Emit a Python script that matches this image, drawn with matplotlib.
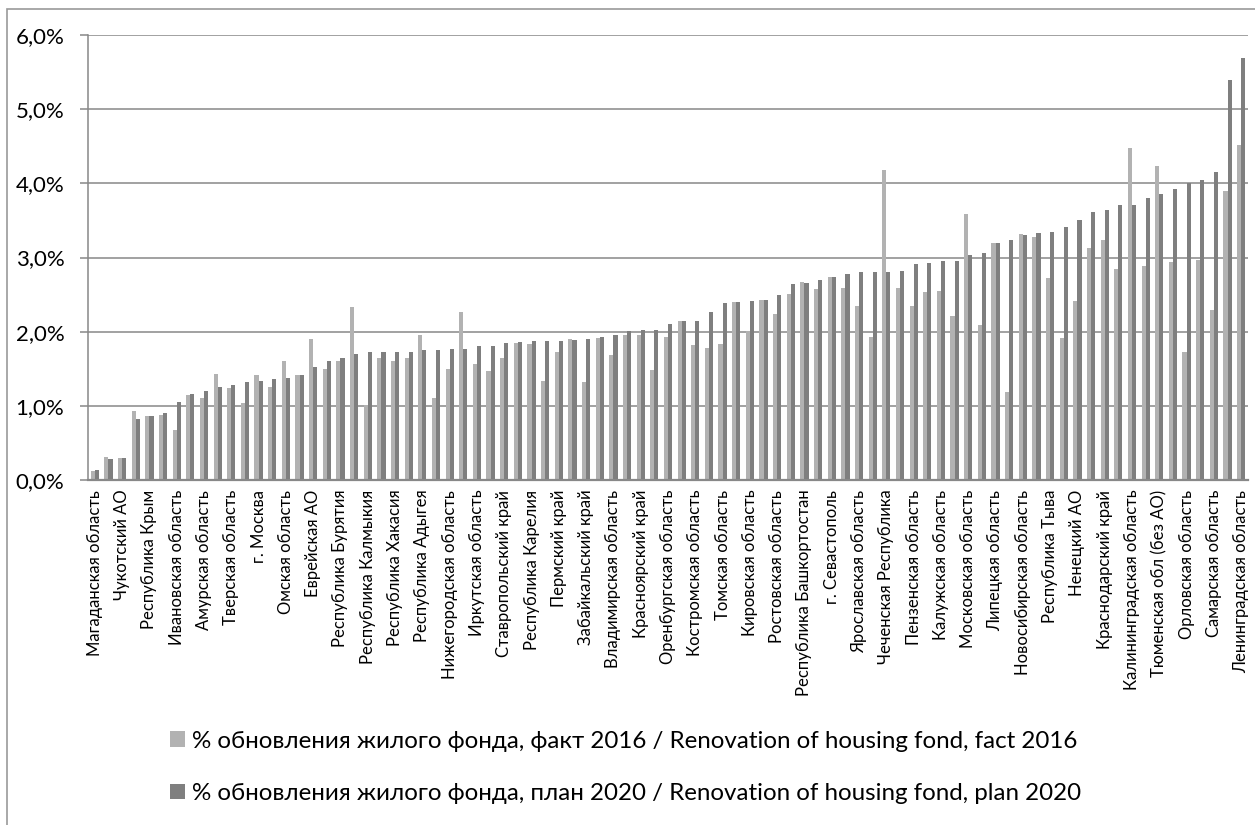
import numpy as np
import matplotlib
matplotlib.use("Agg")
import matplotlib.pyplot as plt
from matplotlib.patches import Rectangle

plt.rcParams['font.family'] = ['Lato', 'Open Sans', 'DejaVu Sans']

# подписи (каждый второй регион)
labels = ["Магаданская область", "Чукотский АО", "Республика Крым", "Ивановская область",
          "Амурская область", "Тверская область", "г. Москва", "Омская область",
          "Еврейская АО", "Республика Бурятия", "Республика Калмыкия", "Республика Хакасия",
          "Республика Адыгея", "Нижегородская область", "Иркутская область",
          "Ставропольский край", "Республика Карелия", "Пермский край", "Забайкальский край",
          "Владимирская область", "Красноярский край", "Оренбургская область",
          "Костромская область", "Томская область", "Кировская область", "Ростовская область",
          "Республика Башкортостан", "г. Севастополь", "Ярославская область",
          "Чеченская Республика", "Пензенская область", "Калужская область",
          "Московская область", "Липецкая область", "Новосибирская область", "Республика Тыва",
          "Ненецкий АО", "Краснодарский край", "Калининградская область",
          "Тюменская обл (без АО)", "Орловская область", "Самарская область",
          "Ленинградская область"]

# % обновления жилого фонда, факт 2016
fact2016 = [0.12, 0.31, 0.29, 0.93, 0.86, 0.88, 0.68, 1.14, 1.10, 1.43,
            1.24, 1.04, 1.42, 1.25, 1.60, 1.41, 1.90, 1.49, 1.60, 2.33,
            1.01, 1.65, 1.60, 1.65, 1.96, 1.11, 1.50, 2.27, 1.57, 1.47,
            1.64, 1.85, 1.83, 1.34, 1.73, 1.90, 1.32, 1.91, 1.68, 1.96,
            1.96, 1.48, 1.93, 2.14, 1.82, 1.78, 1.83, 2.40, 2.01, 2.43,
            2.24, 2.51, 2.67, 2.57, 2.74, 2.59, 2.34, 1.93, 4.18, 2.59,
            2.35, 2.53, 2.55, 2.21, 3.58, 2.09, 3.19, 1.19, 3.32, 3.28,
            2.72, 1.91, 2.41, 3.13, 3.24, 2.85, 4.48, 2.88, 4.23, 2.94,
            1.73, 2.96, 2.29, 3.89, 4.52]

# % обновления жилого фонда, план 2020
plan2020 = [0.14, 0.28, 0.29, 0.82, 0.86, 0.90, 1.05, 1.16, 1.20, 1.26,
            1.28, 1.32, 1.33, 1.36, 1.37, 1.42, 1.52, 1.61, 1.65, 1.70,
            1.72, 1.73, 1.73, 1.73, 1.75, 1.75, 1.76, 1.77, 1.81, 1.81,
            1.85, 1.86, 1.87, 1.87, 1.88, 1.89, 1.90, 1.93, 1.95, 2.01,
            2.02, 2.02, 2.10, 2.14, 2.14, 2.26, 2.38, 2.40, 2.42, 2.43,
            2.49, 2.64, 2.66, 2.69, 2.74, 2.78, 2.80, 2.80, 2.80, 2.82,
            2.91, 2.93, 2.95, 2.95, 3.04, 3.06, 3.20, 3.24, 3.30, 3.33,
            3.34, 3.41, 3.51, 3.61, 3.64, 3.71, 3.71, 3.80, 3.86, 3.92,
            4.00, 4.05, 4.15, 5.40, 5.69]

yticks = [0, 1, 2, 3, 4, 5, 6]

light = '#b2b2b2'
dark = '#7f7f7f'
grid = '#888888'

fig = plt.figure(figsize=(12.55, 8.25), dpi=100)
ax = fig.add_axes([88 / 1255, 1 - 480 / 825, 1160 / 1255, 445 / 825])

x = np.arange(len(plan2020))
w = 0.3
ax.bar(x - w / 2, fact2016, w, color=light, zorder=2,
       label="% обновления жилого фонда, факт 2016 / Renovation of housing fond, fact 2016")
ax.bar(x + w / 2, plan2020, w, color=dark, zorder=2,
       label="% обновления жилого фонда, план 2020 / Renovation of housing fond, plan 2020")

ax.set_xlim(-0.5, len(x) - 0.5)
ax.set_ylim(0, 6)
ax.set_yticks(yticks)
ax.set_yticklabels([("%.1f%%" % v).replace('.', ',') for v in yticks], fontsize=16)
ax.set_xticks(x[::2])
ax.set_xticklabels(labels, rotation=90, fontsize=12, va='top', ha='center')
ax.tick_params(axis='x', length=0, pad=7)
ax.tick_params(axis='y', length=6, width=1.1, color=grid, pad=11)
ax.yaxis.grid(True, color=grid, linewidth=1.1, zorder=0)
ax.set_axisbelow(True)
for s in ['top', 'right']:
    ax.spines[s].set_visible(False)
ax.spines['left'].set_color(grid)
ax.spines['left'].set_linewidth(1.1)
ax.spines['bottom'].set_color(grid)
ax.spines['bottom'].set_linewidth(1.6)
ax.spines['bottom'].set_zorder(3)

fig.legend(loc='upper left', bbox_to_anchor=(160 / 1255, 1 - 721 / 825), frameon=False,
           fontsize=17.4, handlelength=0.62, handleheight=0.62, handletextpad=0.3,
           labelspacing=1.3, borderaxespad=0)

# рамка диаграммы
fig.add_artist(Rectangle((7 / 1255, -0.1), 1.2, 1 - 9 / 825 + 0.1, transform=fig.transFigure,
                         fill=False, edgecolor='#999999', linewidth=1.2))

fig.savefig("out.png", dpi=100)
